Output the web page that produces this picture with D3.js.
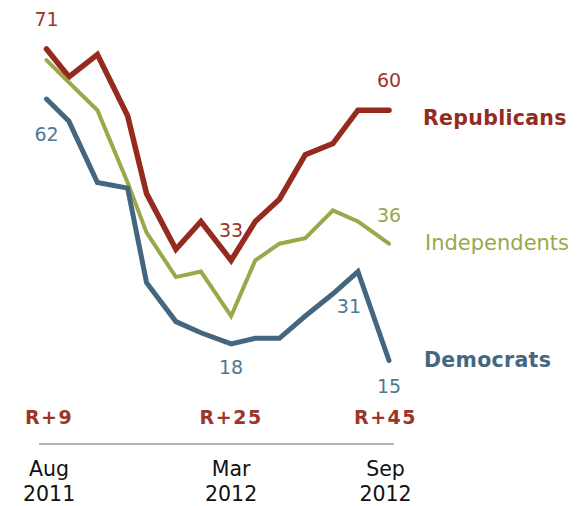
<!DOCTYPE html>
<html>
<head>
<meta charset="utf-8">
<script src="https://cdn.jsdelivr.net/npm/d3@7"></script>
<style>
  body { margin: 0; background: #fff; }
  svg text { font-family: "DejaVu Sans", Verdana, sans-serif; }
</style>
</head>
<body>
<svg width="582" height="506"></svg>
<script>
// survey dates (Aug 2011 - Sep 2012)
var dates = ["2011-08-01", "2011-08-27", "2011-09-29", "2011-11-03", "2011-11-25", "2011-12-29",
  "2012-01-27", "2012-03-02", "2012-03-30", "2012-04-27", "2012-05-27", "2012-06-28",
  "2012-07-27", "2012-09-01"];

var republicans = [71, 66, 70, 59, 45, 35, 40, 33, 40, 44, 52, 54, 60, 60];
var independents = [69, 65, 60, 47, 38, 30, 31, 23, 33, 36, 37, 42, 40, 36];
var democrats = [62, 58, 47, 46, 29, 22, 20, 18, 19, 19, 23, 27, 31, 15];

// bottom axis labels and the R+ gap above them
var tickDates = ["2011-08-04", "2012-03-02", "2012-08-28"];
var tickMonths = ["Aug", "Mar", "Sep"];
var tickYears = ["2011", "2012", "2012"];
var gaps = ["R+9", "R+25", "R+45"];

var parse = d3.timeParse("%Y-%m-%d");

var svg = d3.select("svg");

var x = d3.scaleTime()
  .domain([parse(dates[0]), parse(dates[dates.length - 1])])
  .range([46.5, 389]);
var y = d3.scaleLinear().domain([0, 71]).range([444, 49]);

var series = [
  { name: "Republicans", values: republicans, color: "#952b1e", label: "#9b3629", width: 5.5, bold: true,
    nameX: 423, nameY: 125, nameSize: 20.5, points: [[0, 0, -23], [7, 0, -23], [13, 0, -23]] },
  { name: "Independents", values: independents, color: "#9aa84a", label: "#9aa84a", width: 4, bold: false,
    nameX: 425, nameY: 250, nameSize: 21, points: [[13, 0, -22]] },
  { name: "Democrats", values: democrats, color: "#44677f", label: "#4f7893", width: 5, bold: true,
    nameX: 424, nameY: 367, nameSize: 20.5, points: [[0, 0, 42], [7, 0, 30], [12, -9, 41], [13, 0, 32]] }
];

var line = d3.line()
  .x(function (d) { return x(d.date); })
  .y(function (d) { return y(d.value); });

// x axis line
svg.append("line")
  .attr("x1", 39).attr("x2", 394)
  .attr("y1", y(0)).attr("y2", y(0))
  .attr("stroke", "#9b9b9b")
  .attr("stroke-width", 1.5);

series.forEach(function (s) {
  var pts = s.values.map(function (v, i) { return { date: parse(dates[i]), value: v }; });

  svg.append("path")
    .datum(pts)
    .attr("fill", "none")
    .attr("stroke", s.color)
    .attr("stroke-width", s.width)
    .attr("stroke-linejoin", "miter")
    .attr("stroke-linecap", "round")
    .attr("d", line);

  // value labels
  svg.selectAll(null)
    .data(s.points)
    .enter().append("text")
    .attr("x", function (p) { return x(pts[p[0]].date) + p[1]; })
    .attr("y", function (p) { return y(pts[p[0]].value) + p[2]; })
    .attr("text-anchor", "middle")
    .attr("fill", s.label)
    .style("font-size", "19px")
    .text(function (p) { return s.values[p[0]]; });

  svg.append("text")
    .attr("x", s.nameX)
    .attr("y", s.nameY)
    .attr("fill", s.color)
    .style("font-size", s.nameSize + "px")
    .style("font-weight", s.bold ? "bold" : "normal")
    .style("letter-spacing", s.bold ? "0.3px" : "0px")
    .text(s.name);
});

// R+ gaps
svg.selectAll(".gap")
  .data(gaps)
  .enter().append("text")
  .attr("class", "gap")
  .attr("x", function (d, i) { return x(parse(tickDates[i])); })
  .attr("y", 424)
  .attr("text-anchor", "middle")
  .attr("fill", "#9b3629")
  .style("font-size", "19px")
  .style("font-weight", "bold")
  .style("letter-spacing", "1.5px")
  .text(function (d) { return d; });

// tick labels
var ticks = svg.selectAll(".tick")
  .data(tickDates)
  .enter().append("text")
  .attr("class", "tick")
  .attr("text-anchor", "middle")
  .attr("fill", "#111")
  .style("font-size", "20.5px");

ticks.append("tspan")
  .attr("x", function (d) { return x(parse(d)); })
  .attr("y", 476)
  .text(function (d, i) { return tickMonths[i]; });

ticks.append("tspan")
  .attr("x", function (d) { return x(parse(d)); })
  .attr("y", 501)
  .text(function (d, i) { return tickYears[i]; });
</script>
</body>
</html>
